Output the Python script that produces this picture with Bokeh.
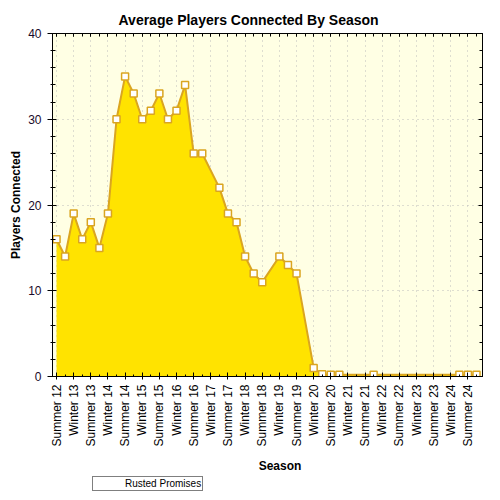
import math
from bokeh.plotting import figure
from bokeh.layouts import column
from bokeh.models import (ColumnDataSource, FixedTicker, LinearAxis, Range1d,
                          Legend, LegendItem, CustomLabelingPolicy, Label)
from bokeh.embed import file_html
from bokeh.resources import INLINE

# quarter index counted from Summer 12 (two quarters per label step)
quarter = [0, 1, 2, 3, 4, 5, 6, 7, 8, 9, 10, 11, 12, 13, 14, 15, 16, 17,
           19, 20, 21, 22, 23, 24, 26, 27, 28, 30, 31, 32, 33, 37, 47, 48, 49]
players = [16, 14, 19, 16, 18, 15, 19, 30, 35, 33, 30, 31, 33, 30, 31, 34, 26, 26,
           22, 19, 18, 14, 12, 11, 14, 13, 12, 1, 0.25, 0.2, 0.2, 0.2, 0.2, 0.2, 0.2]
tick_pos = list(range(0, 49, 2))
tick_labels = ["Summer 12", "Winter 13", "Summer 13", "Winter 14", "Summer 14",
               "Winter 15", "Summer 15", "Winter 16", "Summer 16", "Winter 17",
               "Summer 17", "Winter 18", "Summer 18", "Winter 19", "Summer 19",
               "Winter 20", "Summer 20", "Winter 21", "Summer 21", "Winter 22",
               "Summer 22", "Winter 23", "Summer 23", "Winter 24", "Summer 24"]
series_name = "Rusted Promises"
x_title = "Season"
y_major = [0, 10, 20, 30, 40]
y_minor = list(range(0, 41, 2))

FONT = "Liberation Sans"
GOLD = "#DAA520"
AREA = "#FFE300"

src = ColumnDataSource(dict(x=quarter, y=players, base=[0] * len(quarter)))

p = figure(frame_width=430, frame_height=343, output_backend="svg",
           toolbar_location=None,
           x_range=Range1d(-0.47, 49.7), y_range=Range1d(0, 40))
p.margin = (7, 0, 0, 6)
p.background_fill_color = "#FFFFE4"
p.border_fill_color = "white"
p.outline_line_color = "black"
p.outline_line_width = 1

p.title.text = "Average Players Connected By Season"
p.title.text_font = FONT
p.title.text_font_size = "14px"
p.title.text_font_style = "bold"
p.title.text_color = "black"
p.title.align = "left"
p.title.offset = 66
p.title.standoff = 4

xticker = FixedTicker(ticks=tick_pos, minor_ticks=list(range(0, 50)))
yticker = FixedTicker(ticks=y_major, minor_ticks=y_minor)

xa = p.xaxis[0]
xa.ticker = xticker
xa.major_label_overrides = {t: l for t, l in zip(tick_pos, tick_labels)}
xa.major_label_orientation = math.pi / 2
xa.major_label_text_font = FONT
xa.major_label_text_font_size = "12px"
xa.major_label_text_color = "black"
xa.major_label_standoff = 5
xa.major_tick_in = 4
xa.major_tick_out = 3
xa.minor_tick_in = 2
xa.minor_tick_out = 0
xa.axis_line_color = "black"
xa.major_tick_line_color = "black"
xa.minor_tick_line_color = "black"

ya = p.yaxis[0]
ya.ticker = yticker
ya.major_label_text_font = FONT
ya.major_label_text_font_size = "12px"
ya.major_label_text_color = "#1a0a2a"
ya.major_label_standoff = 6
ya.major_tick_in = 4
ya.major_tick_out = 5
ya.minor_tick_in = 3
ya.minor_tick_out = 2
ya.axis_line_color = "black"
ya.major_tick_line_color = "black"
ya.minor_tick_line_color = "black"
ya.axis_label = "Players Connected"
ya.axis_label_text_font = FONT
ya.axis_label_text_font_size = "12px"
ya.axis_label_text_font_style = "bold"
ya.axis_label_text_color = "black"
ya.axis_label_standoff = 2

no_labels = CustomLabelingPolicy(code="""
    for (const i of Array.from(indices)) { indices.unset(i) }
    return indices
""")
top = LinearAxis(ticker=xticker, major_label_policy=no_labels,
                 major_label_text_font_size="1px",
                 major_label_standoff=0, major_tick_in=3, major_tick_out=0,
                 minor_tick_in=3, minor_tick_out=0, axis_line_color="black")
right = LinearAxis(ticker=yticker, major_label_policy=no_labels,
                   major_label_text_font_size="1px",
                   major_label_standoff=0, major_tick_in=4, major_tick_out=0,
                   minor_tick_in=3, minor_tick_out=0, axis_line_color="black")
p.add_layout(top, "above")
p.add_layout(right, "right")

p.xgrid.ticker = FixedTicker(ticks=tick_pos)
p.ygrid.ticker = FixedTicker(ticks=y_major)
for g in (p.xgrid[0], p.ygrid[0]):
    g.grid_line_color = "#BDBDBD"
    g.grid_line_dash = "1 4"
    g.grid_line_width = 1

p.varea(x="x", y1="base", y2="y", source=src, fill_color=AREA)
p.line(x="x", y="y", source=src, line_color=GOLD, line_width=2)
p.scatter(x="x", y="y", source=src, marker="square", size=7,
          fill_color="white", line_color=GOLD, line_width=1.5)

# strip under the chart holding the x-axis title and the legend
lp = figure(width=484, height=44, output_backend="svg", toolbar_location=None,
            x_range=Range1d(0, 484), y_range=Range1d(0, 44),
            x_axis_type=None, y_axis_type=None, min_border=0)
lp.outline_line_color = None
lp.background_fill_color = "white"
lp.border_fill_color = "white"
lp.grid.visible = False

lp.add_layout(Label(x=261, y=28, text=x_title, text_align="center",
                    text_baseline="middle", text_font=FONT,
                    text_font_size="12px", text_font_style="bold",
                    text_color="black"))

empty = ColumnDataSource(dict(x=[], y=[], base=[]))
la = lp.varea(x="x", y1="base", y2="y", source=empty, fill_color=AREA)
ll = lp.line(x="x", y="y", source=empty, line_color=GOLD, line_width=2)
ls = lp.scatter(x="x", y="y", source=empty, marker="square", size=7,
                fill_color="white", line_color=GOLD, line_width=1.5)

legend = Legend(items=[LegendItem(label=series_name, renderers=[la, ll, ls])],
                orientation="horizontal", location=(46, 2),
                label_text_font=FONT, label_text_font_size="10px",
                label_text_color="black", label_standoff=7,
                glyph_width=24, glyph_height=7, label_height=10,
                padding=1, margin=0, spacing=0,
                border_line_color="black", border_line_width=1,
                background_fill_color="white", background_fill_alpha=1)
lp.add_layout(legend, "center")

page = column(p, lp, spacing=0)

open("out.html", "w").write(file_html(page, INLINE))
